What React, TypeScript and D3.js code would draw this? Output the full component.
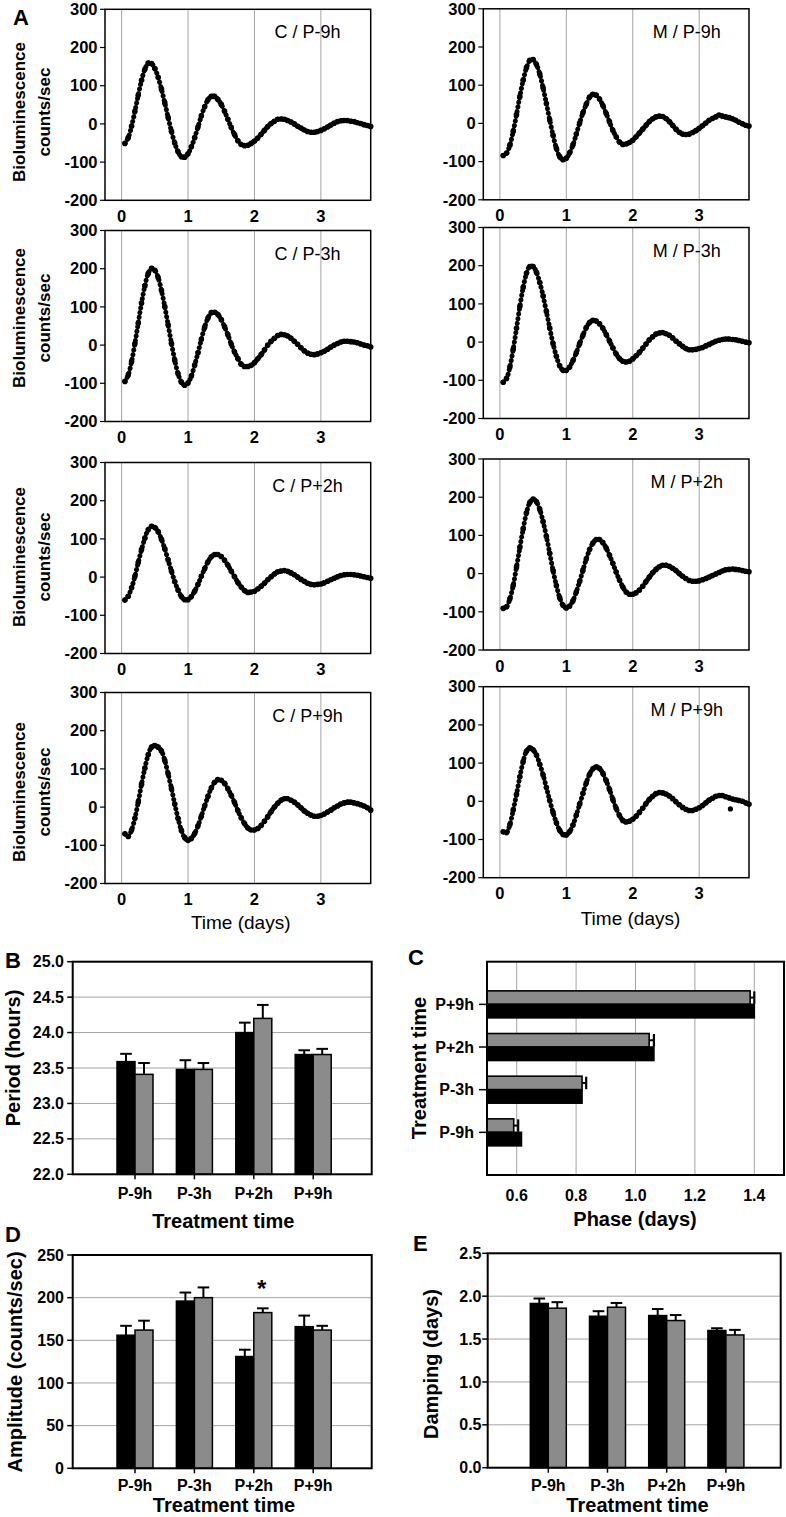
import React from 'react';
import * as d3 from 'd3';

// ---------------- DATA ----------------
// sampling grid of the bioluminescence recordings (days)
const T_START = 0.05;
const T_STEP = 0.05;
const N_SAMPLES = 75;
const TIME: number[] = d3.range(N_SAMPLES).map((i) => +(T_START + i * T_STEP).toFixed(2));

const TRACE_LABELS_C = ['C / P-9h', 'C / P-3h', 'C / P+2h', 'C / P+9h'];
const TRACE_LABELS_M = ['M / P-9h', 'M / P-3h', 'M / P+2h', 'M / P+9h'];

const C_P9 = [-51,-36,-6,33,75,114,143,159,158,145,122,91,55,17,-19,-50,-73,-86,-87,-78,-60,-36,-8,21,45,63,72,72,64,51,33,12,-9,-28,-44,-54,-57,-56,-51,-45,-37,-27,-17,-7,1,7,12,13,12,9,5,0,-6,-11,-16,-20,-22,-22,-20,-17,-13,-8,-3,2,6,8,9,9,7,6,3,1,-2,-4,-7];
const M_P9 = [-84,-78,-57,-21,23,70,113,146,165,167,154,129,93,52,9,-31,-65,-87,-95,-91,-77,-56,-28,1,28,50,69,76,74,64,47,26,4,-18,-35,-49,-55,-54,-50,-44,-35,-25,-15,-5,5,12,17,19,18,13,5,-5,-15,-23,-28,-29,-28,-24,-19,-13,-6,1,8,13,17,22,19,17,15,12,8,3,-1,-5,-7];
const C_P3 = [-95,-78,-43,4,57,110,155,187,201,196,177,143,101,53,5,-40,-75,-97,-105,-99,-81,-52,-20,15,47,71,85,86,80,67,48,27,3,-18,-35,-50,-56,-56,-53,-46,-36,-25,-13,0,10,18,25,28,27,24,18,10,2,-7,-15,-21,-24,-25,-23,-20,-16,-11,-5,0,4,8,10,10,9,8,6,3,0,-2,-5];
const M_P3 = [-105,-95,-65,-19,36,93,143,180,198,198,183,156,121,80,37,-4,-37,-62,-74,-74,-65,-48,-28,-4,18,38,51,57,55,48,36,20,3,-15,-31,-43,-50,-52,-50,-44,-36,-27,-16,-5,6,14,21,24,25,22,18,11,3,-4,-11,-17,-20,-20,-19,-17,-14,-10,-6,-2,2,5,7,8,8,7,6,4,2,0,-2];
const C_P2 = [-60,-50,-28,2,38,72,102,124,133,130,119,99,74,45,16,-12,-34,-51,-59,-59,-51,-37,-19,2,22,40,53,59,59,54,44,31,16,1,-14,-26,-35,-40,-39,-37,-31,-24,-16,-7,1,8,14,16,17,15,11,6,0,-6,-11,-16,-19,-20,-19,-18,-15,-11,-7,-3,1,4,6,7,7,6,5,3,1,-1,-3];
const M_P2 = [-91,-87,-66,-31,17,68,117,159,186,195,188,168,136,97,53,8,-31,-63,-83,-90,-85,-71,-48,-21,9,38,63,80,89,89,81,67,48,27,4,-17,-35,-48,-54,-54,-50,-43,-33,-21,-9,2,11,18,22,22,19,14,8,0,-7,-13,-18,-20,-20,-19,-16,-13,-9,-5,-1,3,7,10,11,12,11,10,8,6,5];
const C_P9P = [-70,-77,-60,-29,13,60,102,137,157,161,157,147,122,87,49,8,-30,-61,-80,-87,-82,-69,-49,-24,3,28,50,65,72,70,62,48,31,12,-9,-28,-43,-55,-60,-60,-56,-48,-37,-25,-12,0,10,18,22,22,18,13,6,-2,-10,-16,-21,-24,-24,-22,-18,-13,-8,-2,3,8,11,13,13,11,9,6,3,-2,-8];
const M_P9P = [-80,-82,-61,-23,18,64,104,131,140,135,121,97,69,36,2,-29,-56,-76,-87,-88,-79,-62,-36,-8,21,48,71,85,90,86,73,54,31,5,-18,-37,-50,-54,-52,-47,-39,-29,-18,-6,5,13,20,23,22,19,14,7,-1,-9,-16,-21,-24,-24,-21,-17,-11,-4,3,8,13,15,15,12,9,6,4,2,0,-4,-8];
const M_P9P_OUTLIER_T = [3.47];
const M_P9P_OUTLIER_V = [-20];

const TRACES_C = [C_P9, C_P3, C_P2, C_P9P];
const TRACES_M = [M_P9, M_P3, M_P2, M_P9P];

const A_Y_TICKS = [300, 200, 100, 0, -100, -200];
const A_X_TICKS = [0, 1, 2, 3];

const CATEGORIES = ['P-9h', 'P-3h', 'P+2h', 'P+9h'];

const PERIOD_C = [23.59, 23.48, 24.0, 23.69];
const PERIOD_C_ERR = [0.11, 0.13, 0.14, 0.06];
const PERIOD_M = [23.41, 23.48, 24.2, 23.69];
const PERIOD_M_ERR = [0.16, 0.09, 0.19, 0.08];
const PERIOD_TICKS = [22.0, 22.5, 23.0, 23.5, 24.0, 24.5, 25.0];

const PHASE_C = [0.616, 0.82, 1.062, 1.4];
const PHASE_M = [0.59, 0.82, 1.046, 1.386];
const PHASE_M_ERR = [0.015, 0.014, 0.016, 0.014];
const PHASE_TICKS = [0.6, 0.8, 1.0, 1.2, 1.4];

const AMP_C = [156, 196, 131, 166];
const AMP_C_ERR = [11, 10, 8, 13];
const AMP_M = [162, 200, 182.5, 162];
const AMP_M_ERR = [11, 12, 5, 5];
const AMP_TICKS = [0, 50, 100, 150, 200, 250];

const DAMP_C = [1.915, 1.766, 1.774, 1.6];
const DAMP_C_ERR = [0.058, 0.059, 0.076, 0.026];
const DAMP_M = [1.86, 1.871, 1.716, 1.548];
const DAMP_M_ERR = [0.07, 0.05, 0.064, 0.059];
const DAMP_TICKS = [0.0, 0.5, 1.0, 1.5, 2.0, 2.5];

// ---------------- STYLE / LAYOUT ----------------
const FONT = "'Liberation Sans', Arial, Helvetica, sans-serif";
const GRID = '#a4a4a4';
const GREY = '#8b8b8b';
const ROW_H = 191;
const A_LEFT = { x0: 105, x1: 370.7, tops: [9.3, 230.5, 462.5, 692.5], labelX: 307.5 };
const A_RIGHT = { x0: 483.3, x1: 749, tops: [8.8, 227.5, 459, 686.7], labelX: 686.7 };
const BIO_LABEL_Y = [112, 318, 557, 792];

function Trace({ x0, x1, top, values, label, labelX, outT, outV }: any) {
  const bottom = top + ROW_H;
  const x = d3.scaleLinear().domain([-0.25, 3.75]).range([x0, x1]);
  const y = d3.scaleLinear().domain([-200, 300]).range([bottom, top]);
  const pts: [number, number][] = values.map((v: number, i: number) => [TIME[i], v]);
  const line = d3
    .line<[number, number]>()
    .x((d) => x(d[0]))
    .y((d) => y(d[1]))
    .curve(d3.curveCatmullRom);
  return (
    <g>
      {A_X_TICKS.map((t) => (
        <line key={'g' + t} x1={x(t)} x2={x(t)} y1={top} y2={bottom} stroke={GRID} strokeWidth={1} />
      ))}
      <rect x={x0} y={top} width={x1 - x0} height={ROW_H} fill="none" stroke="#000" strokeWidth={1.5} />
      {A_Y_TICKS.map((v) => (
        <g key={'y' + v}>
          <line x1={x0 - 5} x2={x0} y1={y(v)} y2={y(v)} stroke="#000" strokeWidth={1.2} />
          <text x={x0 - 7.5} y={y(v)} dy="0.35em" textAnchor="end" fontSize={16.5} fontWeight="bold" fontFamily={FONT}>
            {v}
          </text>
        </g>
      ))}
      {A_X_TICKS.map((t) => (
        <text key={'x' + t} x={x(t)} y={bottom + 21.5} textAnchor="middle" fontSize={16.5} fontWeight="bold" fontFamily={FONT}>
          {t}
        </text>
      ))}
      <path d={line(pts) || ''} fill="none" stroke="#000" strokeWidth={5} strokeLinecap="round" strokeDasharray="0.1 4.6" />
      {pts.map((p, i) => (
        <circle key={i} cx={x(p[0])} cy={y(p[1])} r={2.8} fill="#000" />
      ))}
      {(outT || []).map((t: number, i: number) => (
        <circle key={'o' + i} cx={x(t)} cy={y(outV[i])} r={2.6} fill="#000" />
      ))}
      <text x={labelX} y={top + 29} textAnchor="middle" fontSize={18} fontFamily={FONT}>
        {label}
      </text>
    </g>
  );
}

function VBarPanel({ frame, xr, yDomain, ticks, fmt, black, blackErr, grey, greyErr, catY, ylabel, ylabelX, ylabelY, xlabelX, xlabelY, tickEnd }: any) {
  const x = d3.scaleLinear().domain([0, 5]).range(xr);
  const y = d3.scaleLinear().domain(yDomain).range([frame.y1, frame.y0]);
  const bw = 18;
  const cap = 5.8;
  const err = (cx: number, v: number, e: number, k: string) => (
    <g key={k}>
      <line x1={cx} x2={cx} y1={y(v)} y2={y(v + e)} stroke="#000" strokeWidth={2} />
      <line x1={cx - cap} x2={cx + cap} y1={y(v + e)} y2={y(v + e)} stroke="#000" strokeWidth={2} />
    </g>
  );
  return (
    <g>
      {ticks.map((t: number) => (
        <line key={'g' + t} x1={frame.x0} x2={frame.x1} y1={y(t)} y2={y(t)} stroke={GRID} strokeWidth={1} />
      ))}
      {CATEGORIES.map((c, i) => {
        const cx = x(i + 1);
        return (
          <g key={c}>
            {err(cx - bw / 2, black[i], blackErr[i], 'eb')}
            {err(cx + bw / 2, grey[i], greyErr[i], 'eg')}
            <rect x={cx - bw} y={y(black[i])} width={bw} height={frame.y1 - y(black[i])} fill="#000" stroke="#000" strokeWidth={1.5} />
            <rect x={cx} y={y(grey[i])} width={bw} height={frame.y1 - y(grey[i])} fill={GREY} stroke="#000" strokeWidth={1.5} />
            <line x1={cx} x2={cx} y1={frame.y1} y2={frame.y1 + 5} stroke="#000" strokeWidth={1.5} />
            <text x={cx} y={catY} textAnchor="middle" fontSize={16} fontWeight="bold" fontFamily={FONT}>
              {c}
            </text>
          </g>
        );
      })}
      <rect x={frame.x0} y={frame.y0} width={frame.x1 - frame.x0} height={frame.y1 - frame.y0} fill="none" stroke="#000" strokeWidth={2} />
      {ticks.map((t: number) => (
        <g key={'t' + t}>
          <line x1={frame.x0 - 5.5} x2={frame.x0} y1={y(t)} y2={y(t)} stroke="#000" strokeWidth={1.5} />
          <text x={tickEnd} y={y(t)} dy="0.35em" textAnchor="end" fontSize={16} fontWeight="bold" fontFamily={FONT}>
            {fmt(t)}
          </text>
        </g>
      ))}
      <text transform={`translate(${ylabelX},${ylabelY}) rotate(-90)`} dy="0.35em" textAnchor="middle" fontSize={20} fontWeight="bold" fontFamily={FONT}>
        {ylabel}
      </text>
      <text x={xlabelX} y={xlabelY} textAnchor="middle" fontSize={20} fontWeight="bold" fontFamily={FONT}>
        Treatment time
      </text>
    </g>
  );
}

function PhasePanel() {
  const frame = { x0: 487, x1: 784, y0: 961.7, y1: 1175 };
  const x = d3.scaleLinear().domain([0.5, 1.5]).range([frame.x0, frame.x1]);
  const y = d3.scaleLinear().domain([0, 5]).range([frame.y1, frame.y0]);
  const bh = 13.5;
  return (
    <g>
      {PHASE_TICKS.map((t) => (
        <line key={'g' + t} x1={x(t)} x2={x(t)} y1={frame.y0} y2={frame.y1} stroke={GRID} strokeWidth={1} />
      ))}
      {CATEGORIES.map((c, i) => {
        const cy = y(i + 1);
        const gv = PHASE_M[i];
        const ge = PHASE_M_ERR[i];
        return (
          <g key={c}>
            <rect x={frame.x0} y={cy - bh} width={x(gv) - frame.x0} height={bh} fill={GREY} stroke="#000" strokeWidth={1.6} />
            <line x1={x(gv)} x2={x(gv + ge)} y1={cy - bh / 2} y2={cy - bh / 2} stroke="#000" strokeWidth={2} />
            <line x1={x(gv + ge)} x2={x(gv + ge)} y1={cy - bh + 0.5} y2={cy - 0.5} stroke="#000" strokeWidth={2.2} />
            <rect x={frame.x0} y={cy} width={x(PHASE_C[i]) - frame.x0} height={bh} fill="#000" stroke="#000" strokeWidth={1.6} />
            <line x1={frame.x0 - 8} x2={frame.x0} y1={cy} y2={cy} stroke="#000" strokeWidth={1.5} />
            <text x={474} y={cy} dy="0.35em" textAnchor="end" fontSize={16} fontWeight="bold" fontFamily={FONT}>
              {c}
            </text>
          </g>
        );
      })}
      <rect x={frame.x0} y={frame.y0} width={frame.x1 - frame.x0} height={frame.y1 - frame.y0} fill="none" stroke="#000" strokeWidth={2} />
      {PHASE_TICKS.map((t) => (
        <text key={'t' + t} x={x(t)} y={1201} textAnchor="middle" fontSize={16} fontWeight="bold" fontFamily={FONT}>
          {d3.format('.1f')(t)}
        </text>
      ))}
      <text transform={`translate(419,1068) rotate(-90)`} dy="0.35em" textAnchor="middle" fontSize={20} fontWeight="bold" fontFamily={FONT}>
        Treatment time
      </text>
      <text x={635} y={1226} textAnchor="middle" fontSize={20} fontWeight="bold" fontFamily={FONT}>
        Phase (days)
      </text>
    </g>
  );
}

export default function App() {
  const panelLetter = (t: string, x: number, y: number) => (
    <text x={x} y={y} fontSize={22} fontWeight="bold" fontFamily={FONT}>
      {t}
    </text>
  );
  return (
    <svg width={786} height={1517} style={{ position: 'absolute', left: 0, top: 0, background: '#fff' }}>
      <rect x={0} y={0} width={786} height={1517} fill="#fff" />
      {TRACES_C.map((vals, r) => (
        <Trace key={'c' + r} x0={A_LEFT.x0} x1={A_LEFT.x1} top={A_LEFT.tops[r]} values={vals} label={TRACE_LABELS_C[r]} labelX={A_LEFT.labelX} />
      ))}
      {TRACES_M.map((vals, r) => (
        <Trace
          key={'m' + r}
          x0={A_RIGHT.x0}
          x1={A_RIGHT.x1}
          top={A_RIGHT.tops[r]}
          values={vals}
          label={TRACE_LABELS_M[r]}
          labelX={A_RIGHT.labelX}
          outT={r === 3 ? M_P9P_OUTLIER_T : undefined}
          outV={r === 3 ? M_P9P_OUTLIER_V : undefined}
        />
      ))}
      {BIO_LABEL_Y.map((cy, r) => (
        <g key={'bl' + r}>
          <text transform={`translate(19,${cy}) rotate(-90)`} dy="0.35em" textAnchor="middle" fontSize={17} fontWeight="bold" fontFamily={FONT}>
            Bioluminescence
          </text>
          <text transform={`translate(44,${cy}) rotate(-90)`} dy="0.35em" textAnchor="middle" fontSize={17} fontWeight="bold" fontFamily={FONT}>
            counts/sec
          </text>
        </g>
      ))}
      <text x={240.7} y={929} textAnchor="middle" fontSize={19} fontFamily={FONT}>
        Time (days)
      </text>
      <text x={630.5} y={925} textAnchor="middle" fontSize={19} fontFamily={FONT}>
        Time (days)
      </text>

      <VBarPanel
        frame={{ x0: 72.7, x1: 371.7, y0: 961.7, y1: 1174.3 }}
        xr={[75.6, 372.6]}
        yDomain={[22, 25]}
        ticks={PERIOD_TICKS}
        fmt={d3.format('.1f')}
        black={PERIOD_C}
        blackErr={PERIOD_C_ERR}
        grey={PERIOD_M}
        greyErr={PERIOD_M_ERR}
        catY={1199}
        ylabel="Period (hours)"
        ylabelX={13}
        ylabelY={1058}
        xlabelX={223.3}
        xlabelY={1228}
        tickEnd={64}
      />
      <PhasePanel />
      <VBarPanel
        frame={{ x0: 72.7, x1: 371.7, y0: 1255, y1: 1468.3 }}
        xr={[75.6, 372.6]}
        yDomain={[0, 250]}
        ticks={AMP_TICKS}
        fmt={d3.format('d')}
        black={AMP_C}
        blackErr={AMP_C_ERR}
        grey={AMP_M}
        greyErr={AMP_M_ERR}
        catY={1491}
        ylabel="Amplitude (counts/sec)"
        ylabelX={15}
        ylabelY={1362}
        xlabelX={224}
        xlabelY={1512}
        tickEnd={64}
      />
      <text x={261.7} y={1297} textAnchor="middle" fontSize={24} fontWeight="bold" fontFamily={FONT}>
        *
      </text>
      <VBarPanel
        frame={{ x0: 487.7, x1: 780.7, y0: 1253.3, y1: 1467.7 }}
        xr={[489.1, 785.1]}
        yDomain={[0, 2.5]}
        ticks={DAMP_TICKS}
        fmt={d3.format('.1f')}
        black={DAMP_C}
        blackErr={DAMP_C_ERR}
        grey={DAMP_M}
        greyErr={DAMP_M_ERR}
        catY={1491}
        ylabel="Damping (days)"
        ylabelX={431}
        ylabelY={1364}
        xlabelX={637.5}
        xlabelY={1512}
        tickEnd={481.5}
      />
      {panelLetter('A', 13, 25)}
      {panelLetter('B', 5, 968)}
      {panelLetter('C', 408, 965)}
      {panelLetter('D', 5, 1242)}
      {panelLetter('E', 413, 1251)}
    </svg>
  );
}
